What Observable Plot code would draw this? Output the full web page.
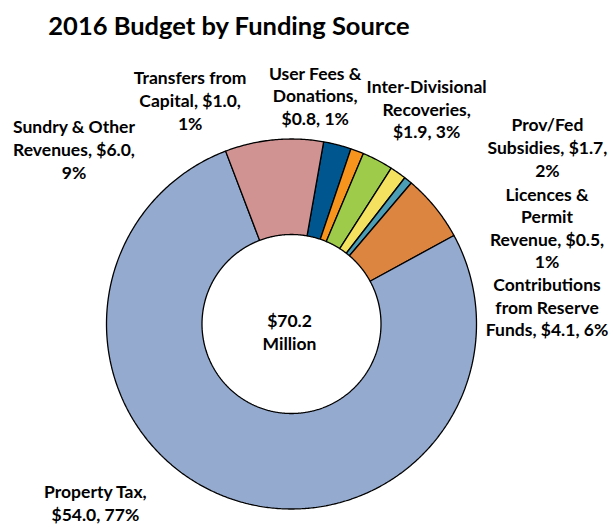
<!DOCTYPE html>
<html>
<head>
<meta charset="utf-8">
<script src="https://cdn.jsdelivr.net/npm/d3@7"></script>
<script src="https://cdn.jsdelivr.net/npm/@observablehq/plot@0.6"></script>
<style>
  html, body { margin: 0; padding: 0; background: #fff; overflow: hidden; }
  #title { height: 48px; line-height: 50px; font-family: Lato, sans-serif; font-weight: 700;
           font-size: 25.5px; color: #000; width: 458px; text-align: center; white-space: nowrap; }
</style>
</head>
<body>
<div id="title">2016 Budget by Funding Source</div>
<div id="chart"></div>
<script>
// ---- data (clockwise order from the top) ----
const categories = [
  "Prov/Fed\nSubsidies",
  "User Fees &\nDonations",
  "Inter-Divisional\nRecoveries",
  "Transfers from\nCapital",
  "Licences &\nPermit\nRevenue",
  "Contributions\nfrom Reserve\nFunds",
  "Property Tax",
  "Sundry & Other\nRevenues"
];
const values = [1.7, 0.8, 1.9, 1.0, 0.5, 4.1, 54.0, 6.0]; // $ millions
const totalMillions = 70.2;
const colors = ["#00568F", "#F7941E", "#9ECB4A", "#F4E160", "#4A9DB5", "#DB8541", "#94AACF", "#D19292"];

// ---- layout (not data) ----
const W = 613, H = 481;
const cx = 291, cy = 275.5;      // donut centre in svg px
const R = 185, r = 89.5;         // outer / inner radius
const startDeg = 10;
// separators after name and after value for each label
const seps = [[" ", "\n"], ["\n", " "], ["\n", " "], [" ", "\n"], [" ", "\n"], [" ", " "], ["\n", " "], [" ", "\n"]];
// label nudges in px from slice's outer-edge midpoint
const nudges = [[210, 2], [-42, -56], [49, -52], [-208, -73], [139, 47], [112, 99], [-132, 5], [-200, 9]];
const fs = 17.5, lh = 1.29;

const pie = d3.pie().sort(null).value(d => d.value)
  .startAngle(startDeg * Math.PI / 180).endAngle(startDeg * Math.PI / 180 + 2 * Math.PI);
const rows = categories.map((name, i) => ({name, value: values[i], color: colors[i], i}));
const arcs = pie(rows);

// polygon points for each slice (computed from the pie angles)
const pts = [];
for (const a of arcs) {
  const n = Math.max(4, Math.ceil((a.endAngle - a.startAngle) / (Math.PI / 360)));
  const ring = [];
  for (let k = 0; k <= n; k++) {
    const t = a.startAngle + (a.endAngle - a.startAngle) * k / n;
    ring.push([R * Math.sin(t), R * Math.cos(t)]);
  }
  for (let k = n; k >= 0; k--) {
    const t = a.startAngle + (a.endAngle - a.startAngle) * k / n;
    ring.push([r * Math.sin(t), r * Math.cos(t)]);
  }
  ring.push(ring[0]);
  for (const [x, y] of ring) pts.push({x, y, name: a.data.name});
}

const labelMarks = arcs.map(a => {
  const i = a.data.i;
  const mid = (a.startAngle + a.endAngle) / 2;
  const pct = Math.round(a.data.value / totalMillions * 100);
  const text = `${a.data.name},${seps[i][0]}$${a.data.value.toFixed(1)},${seps[i][1]}${pct}%`;
  return Plot.text([{x: R * Math.sin(mid), y: R * Math.cos(mid), text}], {
    x: "x", y: "y", text: "text", dx: nudges[i][0], dy: nudges[i][1],
    fontSize: fs, fontWeight: 700, lineHeight: lh, fill: "#000", textAnchor: "middle"
  });
});

const plot = Plot.plot({
  width: W, height: H,
  margin: 0,
  style: {fontFamily: "Lato, sans-serif", background: "#fff", overflow: "visible"},
  x: {domain: [-cx, W - cx], range: [0, W], axis: null},
  y: {domain: [-(H - cy), cy], range: [H, 0], axis: null},
  color: {domain: categories, range: colors},
  marks: [
    Plot.line(pts, {x: "x", y: "y", z: "name", fill: "name", stroke: "#000", strokeWidth: 1.3,
                    curve: "linear", strokeLinejoin: "miter"}),
    ...labelMarks,
    Plot.text([{x: 0, y: 0, text: `$${totalMillions.toFixed(1)}\nMillion`}], {
      x: "x", y: "y", text: "text", dx: -2, dy: 7,
      fontSize: fs, fontWeight: 700, lineHeight: lh, fill: "#000"
    })
  ]
});
document.getElementById("chart").appendChild(plot);
</script>
</body>
</html>
